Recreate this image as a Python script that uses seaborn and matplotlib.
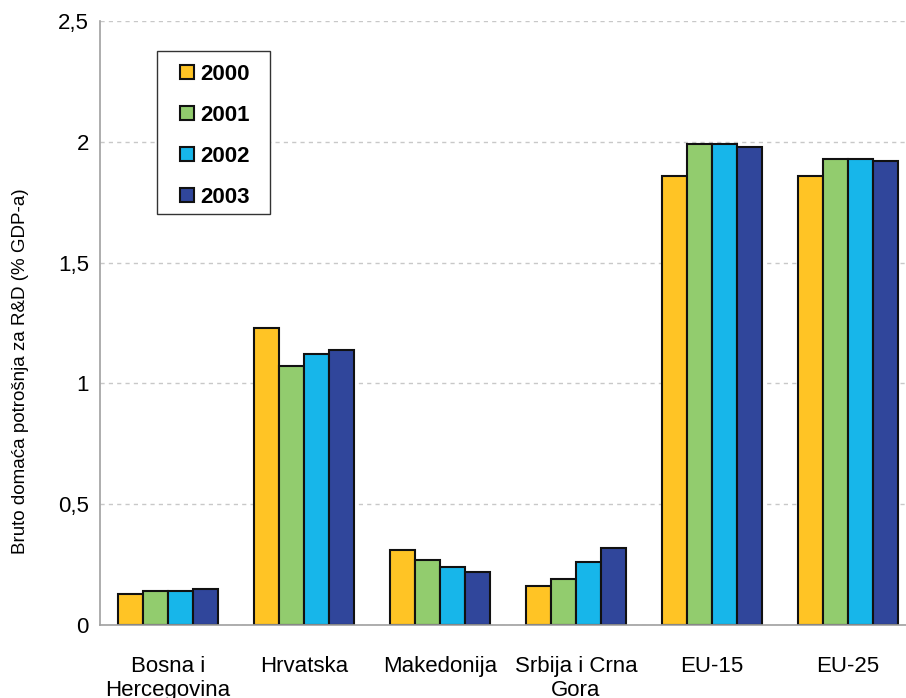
import matplotlib
matplotlib.use("Agg")
import matplotlib.pyplot as plt
from matplotlib.patches import Rectangle
import seaborn as sns
import pandas as pd

categories = ["Bosna i\nHercegovina", "Hrvatska", "Makedonija", "Srbija i Crna\nGora", "EU-15", "EU-25"]
years = ["2000", "2001", "2002", "2003"]
v2000 = [0.13, 1.23, 0.31, 0.16, 1.86, 1.86]
v2001 = [0.14, 1.07, 0.27, 0.19, 1.99, 1.93]
v2002 = [0.14, 1.12, 0.24, 0.26, 1.99, 1.93]
v2003 = [0.15, 1.14, 0.22, 0.32, 1.98, 1.92]
colors = ["#FFC425", "#92CC6E", "#17B6EA", "#30469B"]
ylabel = "Bruto domaća potrošnja za R&D (% GDP-a)"
yticks = [0, 0.5, 1, 1.5, 2, 2.5]
yticklabels = ["0", "0,5", "1", "1,5", "2", "2,5"]

rows = []
for y, vals in zip(years, [v2000, v2001, v2002, v2003]):
    for c, v in zip(categories, vals):
        rows.append({"cat": c, "year": y, "val": v})
df = pd.DataFrame(rows)

sns.set_theme(style="white")
plt.rcParams["font.family"] = ["Liberation Sans", "DejaVu Sans"]
plt.rcParams["text.color"] = "black"
plt.rcParams["axes.labelcolor"] = "black"

fig = plt.figure(figsize=(9.06, 6.98), dpi=100)
ax = fig.add_axes([100/906, 1-625/698, 816/906, 604/698])
sns.barplot(data=df, x="cat", y="val", hue="year", order=categories, hue_order=years,
            palette=colors, width=0.73, edgecolor="#111111", linewidth=1.5, ax=ax,
            saturation=1)
ax.set_xlim(-0.5, 5.5)
ax.set_ylim(0, 2.5)
ax.set_yticks(yticks)
ax.set_yticklabels(yticklabels)
ax.yaxis.grid(True, linestyle=(0, (3, 3)), color="#C8C8C8", linewidth=1)
ax.set_axisbelow(True)
for s in ["top", "right"]:
    ax.spines[s].set_visible(False)
for s in ["left", "bottom"]:
    ax.spines[s].set_color("#A0A0A0")
    ax.spines[s].set_linewidth(1.2)
ax.tick_params(axis="both", length=0, labelsize=16, colors="black", pad=8)
ax.tick_params(axis="x", pad=22)
ax.set_xlabel("")
ax.set_ylabel(ylabel, fontsize=13.5, color="black")
ax.yaxis.set_label_coords(-0.087, 0.42)

leg = ax.legend(loc="upper left", bbox_to_anchor=(0.0847, 0.948), borderaxespad=0,
                prop={"weight": "bold", "size": 16}, handlelength=0.6, handleheight=0.6,
                handletextpad=0.3, labelspacing=0.9, frameon=False,
                borderpad=0.5, labelcolor="black")
leg.set_zorder(6)
frame = Rectangle((157/906, 1-214/698), 113/906, 163/698, transform=fig.transFigure,
                  facecolor="white", edgecolor="#333333", linewidth=1.0, zorder=5)
ax.add_artist(frame)
frame.set_clip_on(False)

fig.savefig("out.png", dpi=100)
